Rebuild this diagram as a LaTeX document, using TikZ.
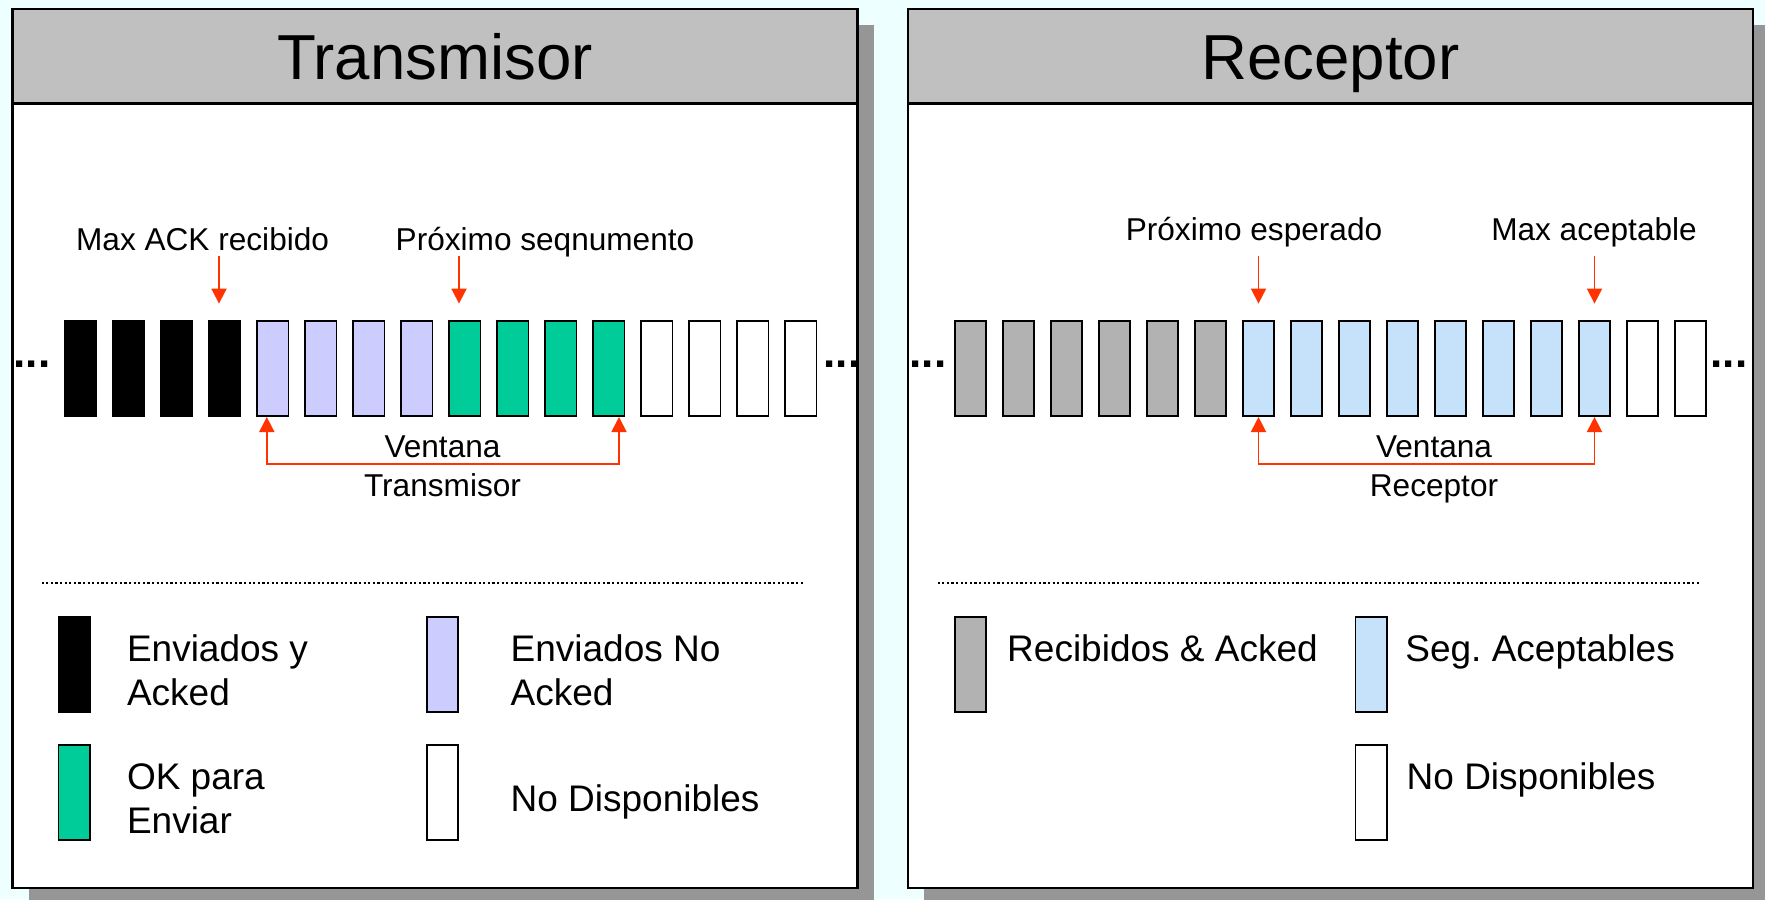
\documentclass[tikz,border=0pt]{standalone}
\usepackage{fontspec}
\setmainfont{Liberation Sans}
\usetikzlibrary{positioning,arrows.meta,shadows}

\definecolor{fondo}{RGB}{238,255,255}
\definecolor{griscab}{RGB}{192,192,192}
\definecolor{sombra}{RGB}{150,150,150}
\definecolor{lavanda}{RGB}{204,204,255}
\definecolor{verdeok}{RGB}{0,204,153}
\definecolor{grisrx}{RGB}{178,178,178}
\definecolor{celeste}{RGB}{198,226,250}
\definecolor{rojo}{RGB}{255,51,0}

\begin{document}
\begin{tikzpicture}[x=0.5pt, y=-0.5pt,
        seg/.style={draw, line width=0.9pt, minimum width=15.6pt, minimum height=47.6pt, inner sep=0pt},
        panel/.style={draw, line width=1.2pt, fill=white, minimum width=422.5pt, minimum height=439.5pt, inner sep=0pt,
            drop shadow={shadow xshift=8pt, shadow yshift=-8pt, fill=sombra, opacity=1}},
        cabecera/.style={draw, line width=1.2pt, fill=griscab, minimum width=422.5pt, minimum height=47.25pt, inner sep=0pt,
            font=\fontsize{31.8}{38}\selectfont, text height=22.8pt, text depth=0pt},
        etiqueta/.style={font=\fontsize{15.8}{19}\selectfont, inner sep=0pt, anchor=base},
        ventana/.style={font=\fontsize{15.8}{19.25}\selectfont, align=center, inner sep=0pt, anchor=north},
        leyenda/.style={font=\fontsize{18.5}{22}\selectfont, align=left, inner sep=0pt},
        puntos/.style={font=\bfseries\fontsize{22}{26}\selectfont, inner sep=0pt, anchor=base},
        apunta/.style={draw=rojo, line width=0.9pt, -{Triangle[length=7.5pt,width=7.5pt]}},
        rango/.style={draw=rojo, line width=0.9pt, {Triangle[length=7.5pt,width=7.5pt]}-{Triangle[length=7.5pt,width=7.5pt]}},
        separa/.style={line width=1.2pt, dash pattern=on 1.1pt off 1.2pt}
    ]
    \path[use as bounding box, fill=fondo] (0,0) rectangle (1765,899);

    % paneles
    \node[panel] (ptx) at (435,448.5) {};
    \node[cabecera, anchor=north] (htx) at (ptx.north) {Transmisor};
    \node[panel] (prx) at (1330.5,448.5) {};
    \node[cabecera, anchor=north] (hrx) at (prx.north) {Receptor};

    % transmisor
    \foreach \i/\c in {1/black,2/black,3/black,4/black,5/lavanda,6/lavanda,7/lavanda,8/lavanda,
                       9/verdeok,10/verdeok,11/verdeok,12/verdeok,13/white,14/white,15/white,16/white}
        \node[seg, fill=\c] (t\i) at ({80.8+48*(\i-1)},368.5) {};
    \node[puntos] (tpi) at (32,367) {...};
    \node[puntos] (tpd) at (842,367) {...};

    \node[etiqueta] (maxack) at (202.6,250.5) {Max ACK recibido};
    \node[etiqueta] (proxseq) at (545,250.5) {Próximo seqnumento};
    \draw[apunta] ([xshift=-2.9pt,yshift=31.9pt]t4.north) -- ([xshift=-2.9pt,yshift=8.2pt]t4.north);
    \draw[apunta] ([xshift=-2.9pt,yshift=31.9pt]t9.north) -- ([xshift=-2.9pt,yshift=8.2pt]t9.north);
    \draw[rango] ([xshift=-3pt]t5.south) -- ++(0,47) -| ([xshift=5.1pt]t12.south);
    \node[ventana] (vtx) at (442.5,435.5) {Ventana\\Transmisor};

    % receptor
    \foreach \i/\c in {1/grisrx,2/grisrx,3/grisrx,4/grisrx,5/grisrx,6/grisrx,7/celeste,8/celeste,
                       9/celeste,10/celeste,11/celeste,12/celeste,13/celeste,14/celeste,15/white,16/white}
        \node[seg, fill=\c] (r\i) at ({970.5+48*(\i-1)},368.5) {};
    \node[puntos] (rpi) at (928,367) {...};
    \node[puntos] (rpd) at (1729,367) {...};

    \node[etiqueta] (proxesp) at (1254,240) {Próximo esperado};
    \node[etiqueta] (maxacep) at (1594,240) {Max aceptable};
    \draw[apunta] ([yshift=31.9pt]r7.north) -- ([yshift=8.2pt]r7.north);
    \draw[apunta] ([yshift=31.9pt]r14.north) -- ([yshift=8.2pt]r14.north);
    \draw[rango] (r7.south) -- ++(0,47) -| (r14.south);
    \node[ventana] (vrx) at (1434,435.5) {Ventana\\Receptor};

    % leyendas
    \draw[separa] (41.6,583) -- (805,583);
    \draw[separa] (937.6,583) -- (1700,583);

    \node[seg, fill=black] (ley1) at (74,664.2) {};
    \node[leyenda, anchor=north west] (txt1) at (126.6,634.5) {Enviados y\\Acked};
    \node[seg, fill=lavanda] (ley2) at (442.4,664.2) {};
    \node[leyenda, anchor=north west] (txt2) at (510.3,634.5) {Enviados No\\Acked};
    \node[seg, fill=verdeok] (ley3) at (74,792.5) {};
    \node[leyenda, anchor=north west] (txt3) at (126.6,763.5) {OK para\\Enviar};
    \node[seg, fill=white] (ley4) at (442.4,792.5) {};
    \node[leyenda, anchor=base west] (txt4) at (510.3,811) {No Disponibles};

    \node[seg, fill=grisrx] (ley5) at (970.7,664.2) {};
    \node[leyenda, anchor=base west] (txt5) at (1006.8,661) {Recibidos \& Acked};
    \node[seg, fill=celeste] (ley6) at (1371,664.2) {};
    \node[leyenda, anchor=base west] (txt6) at (1405,661) {Seg.\ Aceptables};
    \node[seg, fill=white] (ley7) at (1371,792.5) {};
    \node[leyenda, anchor=base west] (txt7) at (1406.3,789) {No Disponibles};
\end{tikzpicture}
\end{document}
